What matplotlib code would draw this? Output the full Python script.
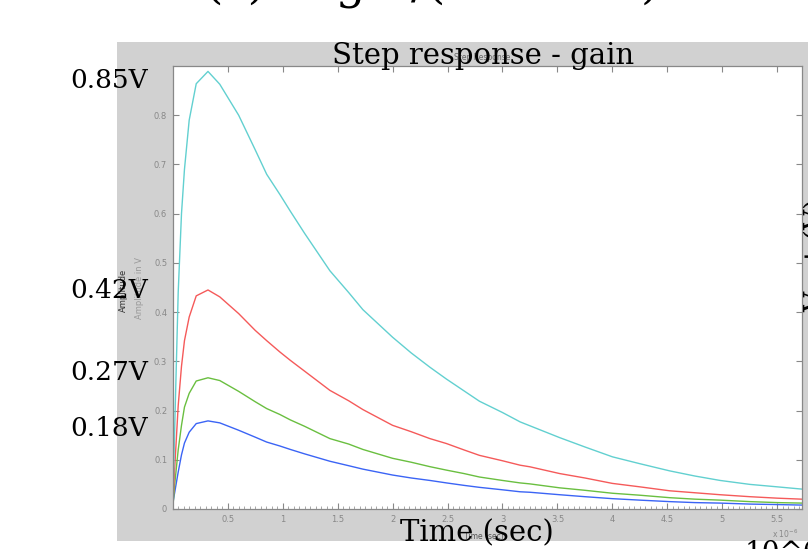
import matplotlib
matplotlib.use('Agg')
import matplotlib.pyplot as plt
from matplotlib.patches import Rectangle
from matplotlib.ticker import MultipleLocator

# Time axis (x 10^-6 s) and the four step responses
t = [0, 0.02, 0.05, 0.08, 0.107, 0.15, 0.214, 0.321, 0.428, 0.6, 0.75, 0.855, 0.975,
     1.07, 1.2, 1.43, 1.6, 1.73, 2.0, 2.17, 2.34, 2.49, 2.65, 2.79, 3.0, 3.16, 3.25,
     3.52, 3.75, 4.0, 4.25, 4.52, 4.75, 4.98, 5.25, 5.5, 5.72]
v_cyan = [0, 0.18, 0.44, 0.60, 0.69, 0.79, 0.864, 0.889, 0.863, 0.80, 0.73, 0.68, 0.639,
          0.605, 0.56, 0.484, 0.44, 0.405, 0.349, 0.317, 0.288, 0.264, 0.24, 0.219, 0.196,
          0.177, 0.169, 0.145, 0.126, 0.106, 0.092, 0.0775, 0.067, 0.058, 0.05, 0.045, 0.0405]
v_red = [0, 0.09, 0.21, 0.29, 0.342, 0.39, 0.433, 0.445, 0.431, 0.397, 0.363, 0.342, 0.319,
         0.302, 0.28, 0.241, 0.22, 0.202, 0.17, 0.157, 0.143, 0.133, 0.12, 0.109, 0.098,
         0.089, 0.0857, 0.072, 0.063, 0.052, 0.045, 0.037, 0.033, 0.029, 0.025, 0.022, 0.02]
v_green = [0, 0.054, 0.12, 0.17, 0.207, 0.235, 0.26, 0.2666, 0.261, 0.239, 0.218, 0.204,
           0.192, 0.181, 0.168, 0.143, 0.132, 0.121, 0.103, 0.095, 0.086, 0.079, 0.072,
           0.065, 0.058, 0.053, 0.051, 0.043, 0.038, 0.032, 0.028, 0.023, 0.02, 0.018,
           0.015, 0.013, 0.012]
v_blue = [0.01, 0.036, 0.075, 0.11, 0.134, 0.156, 0.1735, 0.179, 0.175, 0.16, 0.146, 0.136,
          0.128, 0.121, 0.112, 0.097, 0.088, 0.081, 0.069, 0.063, 0.058, 0.053, 0.048,
          0.044, 0.039, 0.035, 0.034, 0.029, 0.025, 0.021, 0.018, 0.015, 0.013, 0.012,
          0.01, 0.009, 0.008]

peak_labels = ['0.85V', '0.42V', '0.27V', '0.18V']
xtick_vals = [0.5, 1, 1.5, 2, 2.5, 3, 3.5, 4, 4.5, 5, 5.5]
xtick_labels = ['0.5', '1', '1.5', '2', '2.5', '3', '3.5', '4', '4.5', '5', '5.5']
ytick_vals = [0, 0.1, 0.2, 0.3, 0.4, 0.5, 0.6, 0.7, 0.8]
ytick_labels = ['0', '0.1', '0.2', '0.3', '0.4', '0.5', '0.6', '0.7', '0.8']

W, H = 808, 549
fig = plt.figure(figsize=(W / 100, H / 100), dpi=100)
fig.patch.set_facecolor('white')

def fx(px):
    return px / W

def fy(py):
    return 1 - py / H

# grey matlab figure window
fig.patches.append(Rectangle((fx(117), fy(541)), fx(808) - fx(117), fy(42) - fy(541),
                             transform=fig.transFigure, facecolor='#d1d1d1',
                             edgecolor='none', zorder=-5))

ax = fig.add_axes([fx(172.7), fy(509), fx(801.5) - fx(172.7), fy(66) - fy(509)])
ax.set_zorder(1)
ax.set_facecolor('white')
ax.plot(t, v_blue, color='#3b64f5', lw=1)
ax.plot(t, v_green, color='#6abf40', lw=1)
ax.plot(t, v_red, color='#f55a5a', lw=1)
ax.plot(t, v_cyan, color='#62d0d0', lw=1)

ax.set_xlim(0, 5.72)
ax.set_ylim(0, 0.9)
ax.xaxis.set_minor_locator(MultipleLocator(0.05))
ax.set_xticks(xtick_vals)
ax.set_xticklabels(xtick_labels)
ax.set_yticks(ytick_vals)
ax.set_yticklabels(ytick_labels)
ax.tick_params(which='major', direction='in', length=4, width=0.8, color='#888888',
               labelcolor='#888888', labelsize=6, top=True, right=True, pad=4)
ax.tick_params(which='minor', direction='in', length=2, width=0.6, color='#999999',
               top=False, right=False, left=False)
for s in ax.spines.values():
    s.set_color('#888888')
    s.set_linewidth(0.9)

# small matlab labels
fig.text(fx(482), fy(57), 'Step Response', fontsize=5.5, color='#666666', ha='center',
         va='center', zorder=3)
fig.text(fx(484), fy(536), 'Time (sec)', fontsize=5.5, color='#555555', ha='center',
         va='center', zorder=3)
fig.text(fx(785), fy(534), 'x 10$^{-6}$', fontsize=5.5, color='#888888', ha='center',
         va='center', zorder=3)
fig.text(fx(123), fy(290), 'Amplitude', fontsize=6, color='#333333', rotation=90,
         ha='center', va='center', zorder=3)
fig.text(fx(140), fy(288), 'Amplitude in V', fontsize=6, color='#999999', rotation=90,
         ha='center', va='center', zorder=3)

# slide annotations
serif = 'DejaVu Serif'
fig.text(fx(483), fy(56), 'Step response - gain', fontsize=21, family=serif,
         ha='center', va='center', zorder=4)
fig.text(fx(477), fy(533), 'Time (sec)', fontsize=21, family=serif,
         ha='center', va='center', zorder=4)
for lab, py in zip(peak_labels, [80, 291, 373, 428]):
    fig.text(fx(148), fy(py), lab, fontsize=19, family=serif, ha='right', va='center',
             zorder=4)
fig.text(fx(745), fy(540), '10^6', fontsize=20, family=serif, ha='left', va='top', zorder=4)
fig.text(fx(18), fy(-14), 'Vs', fontsize=34, family=serif, ha='left', va='center')
fig.text(fx(205), fy(-14), '(s) = g 1/(RCs + 1)', fontsize=34, family=serif,
         ha='left', va='center')
fig.text(fx(817), fy(255), 'Vout (V)', fontsize=20, family=serif, rotation=90,
         ha='center', va='center', zorder=4)

fig.savefig('out.png', dpi=100)
